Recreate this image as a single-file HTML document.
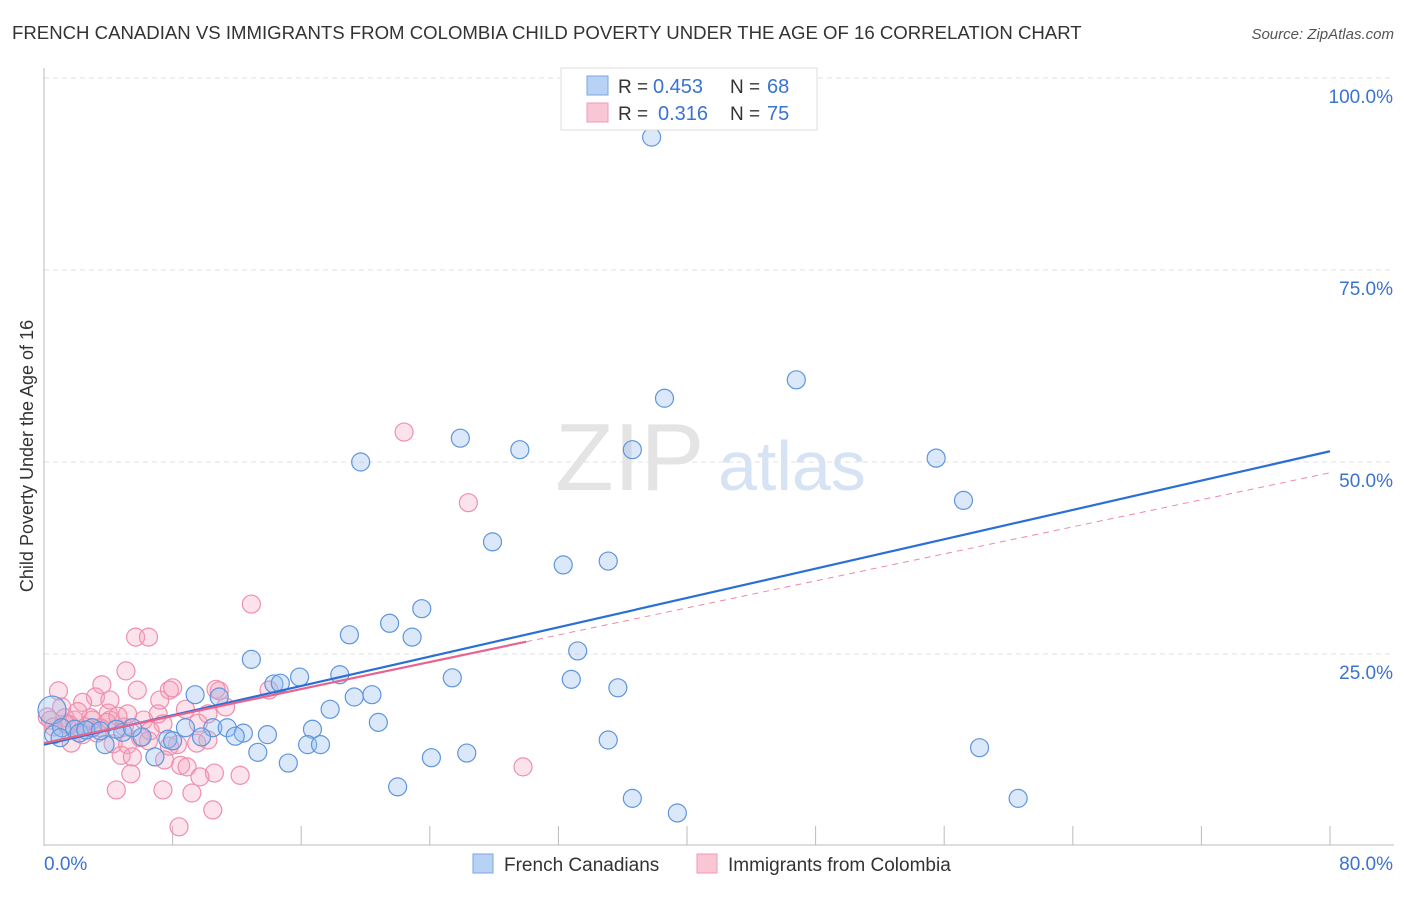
<!DOCTYPE html>
<html><head><meta charset="utf-8"><style>
body{margin:0;background:#fff;font-family:"Liberation Sans",sans-serif;}
svg text{font-family:"Liberation Sans",sans-serif;}
</style></head><body>
<svg id="chart" width="1406" height="892">
<text x="12" y="39" font-size="18.6" fill="#333">FRENCH CANADIAN VS IMMIGRANTS FROM COLOMBIA CHILD POVERTY UNDER THE AGE OF 16 CORRELATION CHART</text>
<text x="1394" y="39" font-size="15" fill="#555" font-style="italic" text-anchor="end">Source: ZipAtlas.com</text>
<text x="0" y="0" transform="translate(33,456) rotate(-90)" font-size="18" fill="#333" text-anchor="middle">Child Poverty Under the Age of 16</text>
<text x="555" y="490" font-size="96" fill="#e4e4e4" font-family="Liberation Serif">ZIP</text>
<text x="718" y="490" font-size="70" fill="#d6e3f5">atlas</text>
<g id="grid"></g>
<g id="axes"></g>
<g id="pts"></g>
<g id="trend"></g>
<g>
<rect x="561" y="68" width="256" height="62" fill="#fff" stroke="#ddd"/>
<rect x="587" y="76" width="21" height="19" fill="#b8d2f5" stroke="#7aa6e0"/>
<rect x="587" y="103" width="21" height="19" fill="#f9c6d4" stroke="#ef9ab4"/>
<text x="618" y="93" font-size="19" fill="#333">R =</text>
<text x="653" y="93" font-size="20" fill="#3a73d0">0.453</text>
<text x="730" y="93" font-size="19" fill="#333">N =</text>
<text x="767" y="93" font-size="20" fill="#3a73d0">68</text>
<text x="618" y="120" font-size="19" fill="#333">R =</text>
<text x="658" y="120" font-size="20" fill="#3a73d0">0.316</text>
<text x="730" y="120" font-size="19" fill="#333">N =</text>
<text x="767" y="120" font-size="20" fill="#3a73d0">75</text>
</g>
<g>
<rect x="473" y="854" width="20" height="19" fill="#b8d2f5" stroke="#7aa6e0"/>
<text x="504" y="871" font-size="19" fill="#333">French Canadians</text>
<rect x="697" y="854" width="20" height="19" fill="#f9c6d4" stroke="#ef9ab4"/>
<text x="728" y="871" font-size="19" fill="#333">Immigrants from Colombia</text>
</g>
</svg>
<script>
const blueX=[37.8,46.8,38.6,25.9,29.6,36.6,19.7,55.5,57.2,27.9,32.3,35.1,23.5,21.5,19.0,22.9,33.2,12.9,15.9,18.4,14.3,14.7,25.4,32.8,35.7,9.4,10.9,19.3,20.4,17.8,20.8,8.8,10.5,11.4,12.4,16.7,13.9,11.9,7.7,9.8,6.1,4.9,3.8,4.5,5.5,35.1,16.4,17.2,13.3,15.2,24.1,26.3,58.2,22.0,36.6,39.4,60.6,0.6,0.5,1.1,1.9,2.2,3.0,6.9,8.0,2.6,1.0,3.5];
const blueY=[92.3,60.7,58.3,53.1,51.6,51.6,50.0,50.5,45.0,39.6,36.6,37.1,30.9,29.0,27.5,27.2,25.4,24.3,22.0,22.3,21.1,21.2,21.9,21.7,20.6,19.7,19.4,19.4,19.7,17.8,16.1,15.4,15.4,15.4,14.7,15.2,14.5,14.3,13.9,14.2,14.2,14.8,13.2,15.2,15.4,13.8,13.2,13.2,12.2,10.8,11.5,12.1,12.8,7.7,6.2,4.3,6.2,14.5,17.7,15.4,15.2,14.7,15.4,11.6,13.7,15.1,14.1,15.0];
const pinkX=[22.4,26.4,12.9,5.7,6.5,5.1,0.9,3.6,5.8,7.8,8.0,10.9,10.7,14.0,3.2,2.4,11.3,8.8,10.2,1.1,4.0,7.1,6.2,5.2,0.2,1.3,1.9,2.9,4.1,5.0,7.4,9.6,6.0,1.7,4.3,5.2,6.5,8.3,9.5,10.2,7.8,2.4,4.8,5.5,7.5,8.5,8.9,5.4,10.6,12.2,9.7,4.5,7.4,9.2,29.8,8.4,10.5,3.3,0.4,1.4,3.5,3.9,4.6,6.6,3.0,0.6,2.6,1.6,7.2,4.1,2.1];
const pinkY=[53.9,44.7,31.5,27.2,27.2,22.8,20.2,21.0,20.3,20.3,20.6,20.2,20.4,20.3,19.4,18.7,18.1,17.8,17.2,18.1,17.3,17.2,16.4,17.2,16.8,16.7,16.4,16.7,16.4,15.5,15.9,16.0,14.1,13.4,13.3,13.2,13.7,13.2,13.4,13.8,13.0,14.5,11.8,11.6,11.2,10.5,10.3,9.4,9.5,9.2,9.0,7.3,7.3,6.9,10.3,2.5,4.7,14.7,16.4,15.8,15.4,16.1,16.9,15.0,16.4,15.5,15.5,15.8,19.0,19.0,17.5];
const blueTrend=[13.2,51.4];
const pinkTrend=[13.4,0.44,30];
const yTicks=[25,50,75,100];
const yTickLabels=["25.0%","50.0%","75.0%","100.0%"];
const xTicks=[8,16,24,32,40,48,56,64,72,80];

const NS="http://www.w3.org/2000/svg";
const sx=v=>44+v/80*1286;
const sy=v=>846-v/100*768;
function mk(tag,attrs,parent){const e=document.createElementNS(NS,tag);for(const k in attrs)e.setAttribute(k,attrs[k]);parent.appendChild(e);return e;}
const grid=document.getElementById('grid'),axes=document.getElementById('axes'),pts=document.getElementById('pts'),trend=document.getElementById('trend');
yTicks.forEach((t,i)=>{
  const l=mk('line',{x1:44,x2:1394,y1:sy(t),y2:sy(t),stroke:'#e2e2e2','stroke-dasharray':'5,4'},grid);
  
  
  const tx=mk('text',{x:1393,y:sy(t)+25,'font-size':19,fill:'#3a73d0','text-anchor':'end'},grid);
  tx.textContent=yTickLabels[i];
  
  
});
const ax=mk('line',{x1:44,x2:44,y1:68,y2:846,stroke:'#bbb'},axes);


const bx=mk('line',{x1:44,x2:1394,y1:845,y2:845,stroke:'#bbb'},axes);


xTicks.forEach(t=>{
  const l=mk('line',{x1:sx(t),x2:sx(t),y1:826,y2:845,stroke:'#bbb'},axes);
  
  
});
const x0=mk('text',{x:44,y:870,'font-size':19,fill:'#3a73d0'},axes);x0.textContent='0.0%';


const x1=mk('text',{x:1393,y:870,'font-size':19,fill:'#3a73d0','text-anchor':'end'},axes);x1.textContent='80.0%';


pinkX.forEach((x,i)=>{
  const c=mk('circle',{cx:sx(x),cy:sy(pinkY[i]),r:9,fill:'rgba(244,160,185,0.3)',stroke:'#ef8fae','stroke-width':1.2},pts);
  
  
});
blueX.forEach((x,i)=>{
  const c=mk('circle',{cx:sx(x),cy:sy(blueY[i]),r:(i==58?14:9),fill:'rgba(150,190,240,0.35)',stroke:'#5f95dc','stroke-width':1.2},pts);
  
  
});
const bl=mk('line',{x1:sx(0),y1:sy(blueTrend[0]),x2:sx(80),y2:sy(blueTrend[1]),stroke:'#2a6fd6','stroke-width':2.2},trend);


const pe=pinkTrend[0]+pinkTrend[1]*pinkTrend[2];
const pl=mk('line',{x1:sx(0),y1:sy(pinkTrend[0]),x2:sx(pinkTrend[2]),y2:sy(pe),stroke:'#e8638d','stroke-width':2.2},trend);


const pd=mk('line',{x1:sx(pinkTrend[2]),y1:sy(pe),x2:sx(80),y2:sy(pinkTrend[0]+pinkTrend[1]*80),stroke:'#eb8aa8','stroke-width':1,'stroke-dasharray':'6,5'},trend);


</script>
</body></html>
